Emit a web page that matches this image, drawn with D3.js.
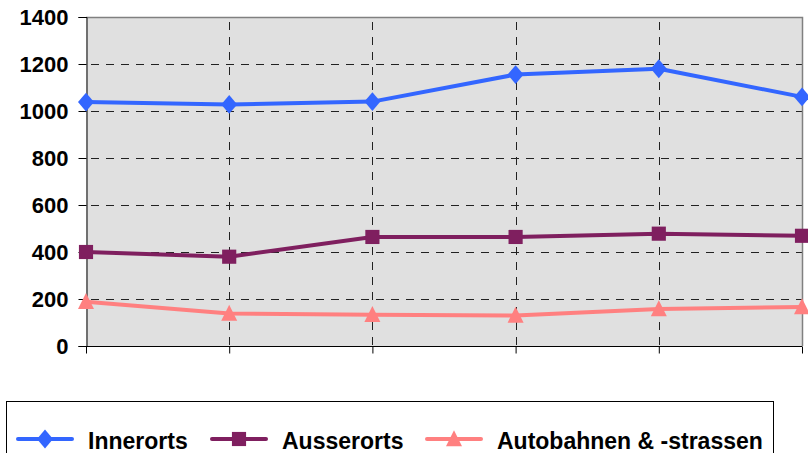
<!DOCTYPE html>
<html>
<head>
<meta charset="utf-8">
<script src="https://cdn.jsdelivr.net/npm/d3@7"></script>
<style>
  html, body { margin: 0; padding: 0; background: #fff; }
  svg { display: block; font-family: Arial, "Liberation Sans", sans-serif; }
</style>
</head>
<body>
<svg id="chart" width="808" height="453"></svg>
<script>
// Six periods, no category labels shown on the x axis
const categories = ["1", "2", "3", "4", "5", "6"];
const innerorts = [1038, 1028, 1040, 1155, 1180, 1060];
const ausserorts = [400, 380, 464, 464, 478, 469];
const autobahnen = [188, 138, 133, 130, 157, 166];
const yTicks = [0, 200, 400, 600, 800, 1000, 1200, 1400];
const seriesNames = ["Innerorts", "Ausserorts", "Autobahnen & -strassen"];

// marker shapes: slightly tall diamond, square, tall triangle
const tallDiamond = {
  draw(ctx, size) {
    const w = Math.sqrt(size) * 0.5, h = w * 1.18;
    ctx.moveTo(0, -h); ctx.lineTo(w, 0); ctx.lineTo(0, h); ctx.lineTo(-w, 0); ctx.closePath();
  }
};
const tallTriangle = {
  draw(ctx, size) {
    const w = Math.sqrt(size) * 0.5;
    ctx.moveTo(0, -w * 1.1); ctx.lineTo(w, w * 0.9); ctx.lineTo(-w, w * 0.9); ctx.closePath();
  }
};

const series = [
  { name: seriesNames[0], values: innerorts, color: "#3366FF", symbol: tallDiamond, size: 256 },
  { name: seriesNames[1], values: ausserorts, color: "#7F1F5F", symbol: d3.symbolSquare2, size: 255 },
  { name: seriesNames[2], values: autobahnen, color: "#FF8080", symbol: tallTriangle, size: 256 }
];

const svg = d3.select("#chart");
const plot = { left: 86, right: 802, top: 17, bottom: 346 };

const x = d3.scalePoint().domain(categories).range([plot.left, plot.right]);
const y = d3.scaleLinear().domain([0, 1400]).range([plot.bottom, plot.top]);

// plot background
svg.append("rect")
  .attr("x", plot.left).attr("y", plot.top)
  .attr("width", plot.right - plot.left).attr("height", plot.bottom - plot.top)
  .attr("fill", "#E0E0E0");

// horizontal dashed grid
svg.append("g").selectAll("line")
  .data(yTicks.filter(v => v > 0 && v < 1400))
  .join("line")
  .attr("x1", plot.left).attr("x2", plot.right)
  .attr("y1", d => Math.round(y(d)) + 0.5).attr("y2", d => Math.round(y(d)) + 0.5)
  .attr("stroke", "#222").attr("stroke-width", 1)
  .attr("stroke-dasharray", "8,7").attr("stroke-dashoffset", 10);

// vertical dashed grid
svg.append("g").selectAll("line")
  .data(categories.slice(1, -1))
  .join("line")
  .attr("x1", d => Math.round(x(d)) + 0.5).attr("x2", d => Math.round(x(d)) + 0.5)
  .attr("y1", plot.top).attr("y2", plot.bottom)
  .attr("stroke", "#222").attr("stroke-width", 1)
  .attr("stroke-dasharray", "8,7").attr("stroke-dashoffset", 10);

// top and right frame
svg.append("path")
  .attr("d", `M${plot.left},${plot.top + 0.5}H${plot.right + 0.5}V${plot.bottom}`)
  .attr("fill", "none").attr("stroke", "#808080").attr("stroke-width", 1.5);

// y axis
const yAxis = svg.append("g")
  .attr("transform", `translate(${plot.left + 0.5},0)`)
  .call(d3.axisLeft(y).tickValues(yTicks).tickFormat(d3.format("d")).tickSize(8).tickPadding(10));
yAxis.select(".domain").attr("stroke", "#000");
yAxis.selectAll(".tick line").attr("stroke", "#000");
yAxis.selectAll("text")
  .attr("fill", "#000").attr("font-size", 22).attr("font-weight", "bold")
  .attr("font-family", "Arial, 'Liberation Sans', sans-serif");

// x axis (ticks only)
const xAxis = svg.append("g")
  .attr("transform", `translate(0,${plot.bottom + 0.5})`)
  .call(d3.axisBottom(x).tickSize(7).tickFormat(""));
xAxis.select(".domain").attr("stroke", "#000").attr("d", `M${plot.left},0H${plot.right}`);
xAxis.selectAll(".tick line").attr("stroke", "#000");

// series lines and markers
const line = d3.line().x((d, i) => x(categories[i])).y(d => y(d));
series.forEach(s => {
  svg.append("path")
    .datum(s.values)
    .attr("d", line)
    .attr("fill", "none")
    .attr("stroke", s.color)
    .attr("stroke-width", 4)
    .attr("stroke-linejoin", "round");
  svg.append("g").selectAll("path")
    .data(s.values)
    .join("path")
    .attr("transform", (d, i) => `translate(${x(categories[i])},${y(d)})`)
    .attr("d", d3.symbol().type(s.symbol).size(s.size))
    .attr("fill", s.color);
});

// legend
const legend = svg.append("g");
legend.append("rect")
  .attr("x", 6.5).attr("y", 401.5).attr("width", 767).attr("height", 70)
  .attr("fill", "#fff").attr("stroke", "#000").attr("stroke-width", 1);

const legendX = [18, 212, 427];
series.forEach((s, i) => {
  const g = legend.append("g").attr("transform", `translate(${legendX[i]},439)`);
  g.append("line").attr("x1", 0).attr("x2", 54).attr("y1", 0).attr("y2", 0)
    .attr("stroke", s.color).attr("stroke-width", 4).attr("stroke-linecap", "round");
  g.append("path").attr("transform", "translate(27,0)")
    .attr("d", d3.symbol().type(s.symbol).size(s.size)).attr("fill", s.color);
  g.append("text").attr("x", 70).attr("y", 10)
    .attr("font-size", 23).attr("font-weight", "bold").attr("fill", "#000")
    .text(s.name);
});
</script>
</body>
</html>
